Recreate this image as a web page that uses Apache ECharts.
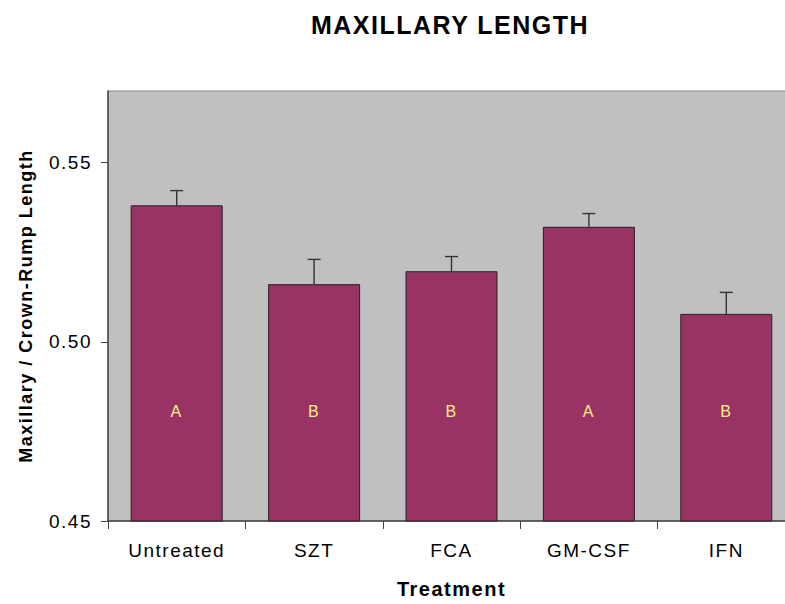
<!DOCTYPE html>
<html>
<head>
<meta charset="utf-8">
<script src="https://cdn.jsdelivr.net/npm/echarts@6/dist/echarts.min.js"></script>
<style>
  html, body { margin: 0; padding: 0; background: #ffffff; }
  #chart { width: 785px; height: 604px; letter-spacing: 1.5px; }
</style>
</head>
<body>
<div id="chart"></div>
<script>
const categories = ['Untreated', 'SZT', 'FCA', 'GM-CSF', 'IFN'];
const means = [0.5381, 0.5161, 0.5197, 0.5321, 0.5078];
const errors = [0.0041, 0.0069, 0.0041, 0.0037, 0.0060];
const groups = ['A', 'B', 'B', 'A', 'B'];
const yTicks = { min: 0.45, max: 0.57, interval: 0.05 };

const FONT = '"Liberation Sans", Arial, Helvetica, sans-serif';
const chart = echarts.init(document.getElementById('chart'), null, { renderer: 'svg' });

chart.setOption({
  backgroundColor: '#ffffff',
  animation: false,
  title: {
    text: 'MAXILLARY LENGTH',
    left: 445,
    top: 7,
    textAlign: 'center',
    textStyle: { fontFamily: FONT, fontSize: 25, fontWeight: 'bold', color: '#000' }
  },
  grid: {
    left: 108,
    top: 91,
    width: 687,
    height: 430,
    show: true,
    backgroundColor: '#c0c0c0',
    borderColor: '#8a8a8a',
    borderWidth: 1,
    containLabel: false,
    outerBoundsMode: 'none'
  },
  xAxis: {
    type: 'category',
    data: categories,
    name: 'Treatment',
    nameLocation: 'middle',
    nameGap: 58,
    nameTextStyle: { fontFamily: FONT, fontSize: 20, fontWeight: 'bold', color: '#000' },
    axisLine: { show: true, lineStyle: { color: '#444', width: 1.5 } },
    axisTick: { show: true, alignWithLabel: false, length: 8, lineStyle: { color: '#444' } },
    axisLabel: { fontFamily: FONT, fontSize: 19, color: '#000', margin: 20 },
    splitLine: { show: false }
  },
  yAxis: {
    type: 'value',
    min: yTicks.min,
    max: yTicks.max,
    interval: yTicks.interval,
    name: 'Maxillary / Crown-Rump Length',
    nameLocation: 'middle',
    nameGap: 73,
    nameRotate: 90,
    nameTextStyle: { fontFamily: FONT, fontSize: 18, fontWeight: 'bold', color: '#000' },
    axisLine: { show: true, lineStyle: { color: '#444', width: 1.5 } },
    axisTick: { show: true, length: 7, lineStyle: { color: '#444' } },
    axisLabel: {
      fontFamily: FONT, fontSize: 19, color: '#000', margin: 16,
      showMaxLabel: false,
      formatter: v => v.toFixed(2)
    },
    splitLine: { show: false }
  },
  series: [
    {
      type: 'bar',
      data: means,
      barWidth: 92,
      itemStyle: { color: '#993363', borderColor: '#222', borderWidth: 1 },
      label: {
        show: true,
        position: 'insideBottom',
        distance: 102,
        formatter: p => groups[p.dataIndex],
        fontFamily: FONT,
        fontSize: 16,
        color: '#ffee88'
      },
      z: 2
    },
    {
      type: 'custom',
      data: categories.map((c, i) => [i, means[i], errors[i]]),
      renderItem: function (params, api) {
        const i = api.value(0);
        const v = api.value(1);
        const e = api.value(2);
        const p0 = api.coord([i, v]);
        const p1 = api.coord([i, v + e]);
        const cap = 6.5;
        const style = { stroke: '#333', lineWidth: 1.4 };
        return {
          type: 'group',
          children: [
            { type: 'line', shape: { x1: p0[0], y1: p0[1], x2: p1[0], y2: p1[1] }, style: style },
            { type: 'line', shape: { x1: p1[0] - cap, y1: p1[1], x2: p1[0] + cap, y2: p1[1] }, style: style }
          ]
        };
      },
      z: 3
    }
  ]
});
</script>
</body>
</html>
